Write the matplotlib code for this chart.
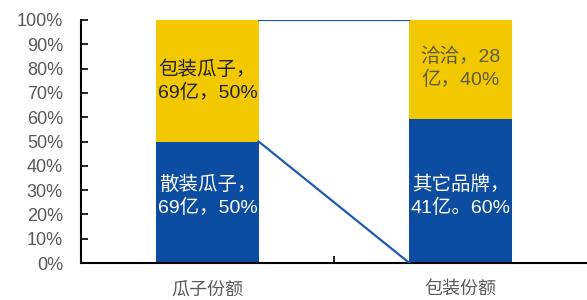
import matplotlib
matplotlib.use("Agg")
import matplotlib.pyplot as plt
import numpy as np

plt.rcParams['font.family'] = ['Liberation Sans', 'Noto Sans CJK SC', 'DejaVu Sans']

categories = ["瓜子份额", "包装份额"]
bottom_vals = [50.0, 59.4]   # 散装瓜子 / 其它品牌
top_vals = [50.0, 40.6]      # 包装瓜子 / 洽洽
bottom_labels = ["散装瓜子，\n69亿，50%", "其它品牌，\n41亿。60%"]
top_labels = ["包装瓜子，\n69亿，50%", "洽洽，28\n亿，40%"]

blue = "#0D4DA1"
yellow = "#F2C900"
gray = "#595959"

fig = plt.figure(figsize=(5.87, 3.0), dpi=100)
ax = fig.add_axes([81 / 587, 37 / 300, 506 / 587, 243 / 300])

x = np.arange(len(categories))
w = 0.404
ax.bar(x, bottom_vals, width=w, color=blue, zorder=2)
ax.bar(x, top_vals, width=w, bottom=bottom_vals, color=yellow, zorder=2)

# connector lines
ax.plot([x[0] + w / 2, x[1] - w / 2], [100, 100], color="#1F5BB0", lw=1.6, zorder=3)
ax.plot([x[0] + w / 2, x[1] - w / 2], [bottom_vals[0], 0], color="#1F5BB0", lw=1.6, zorder=3)

# labels inside bars
fs = 14
ls = 1.35
ax.text(x[0], 75, top_labels[0], ha="center", va="center", fontsize=fs,
        color="#222222", linespacing=ls)
ax.text(x[0], 27.5, bottom_labels[0], ha="center", va="center", fontsize=fs,
        color="white", linespacing=ls)
ax.text(x[1], 80, top_labels[1], ha="center", va="center", fontsize=fs,
        color="#5F5A3A", linespacing=ls)
ax.text(x[1], 27.5, bottom_labels[1], ha="center", va="center", fontsize=fs,
        color="white", linespacing=ls)

ax.set_xlim(-0.5, 1.5)
ax.set_ylim(0, 100)
ax.set_yticks(np.arange(0, 101, 10))
ax.set_yticklabels([f"{v}%" for v in range(0, 101, 10)], color=gray, fontsize=13)
ax.set_xticks([0.5])
ax.set_xticklabels([""])
ax.tick_params(axis="y", direction="in", length=5, width=1.2, pad=13)
ax.tick_params(axis="x", direction="in", length=5, width=1.2)
for i, c in enumerate(categories):
    ax.text(x[i], -7.5, c, ha="center", va="top", fontsize=13, color=gray)

ax.spines["top"].set_visible(False)
ax.spines["right"].set_visible(False)
ax.spines["left"].set_linewidth(1.5)
ax.spines["bottom"].set_linewidth(1.5)

fig.savefig("out.png", dpi=100)
